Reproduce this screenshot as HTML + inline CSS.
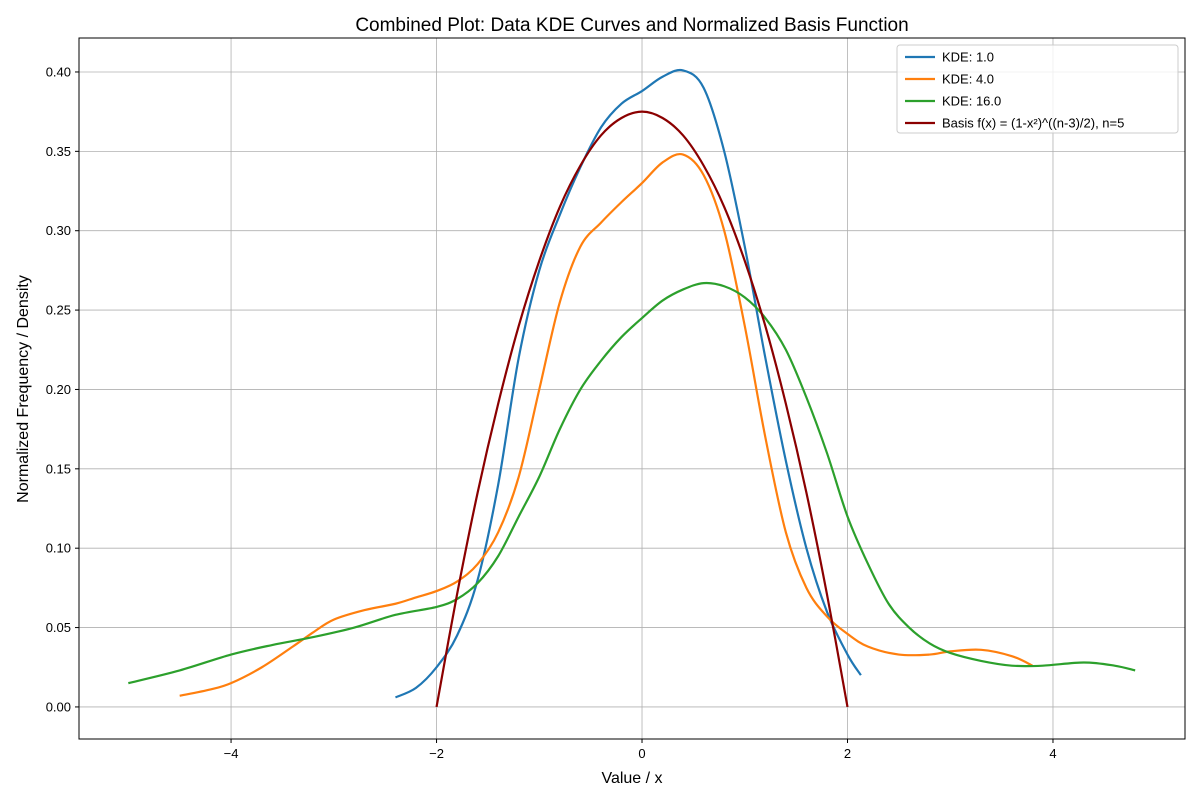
<!DOCTYPE html>
<html><head><meta charset="utf-8"><style>
body{margin:0;background:#fff;}
svg{font-family:"Liberation Sans","DejaVu Sans",sans-serif;}
</style></head><body>
<svg id="chart" width="1200" height="800">
<rect width="1200" height="800" fill="#fff"/>
<g id="grid"></g>
<g id="series"></g>
<rect x="79" y="38" width="1106" height="701" fill="none" stroke="#000" stroke-width="1"/>
<g id="ticks" font-size="13"></g>
<text x="632" y="31" text-anchor="middle" font-size="19">Combined Plot: Data KDE Curves and Normalized Basis Function</text>
<text x="632" y="783" text-anchor="middle" font-size="16">Value / x</text>
<text transform="translate(28,389) rotate(-90)" text-anchor="middle" font-size="16">Normalized Frequency / Density</text>
<g id="legend">
<rect x="897" y="45" width="281" height="88" rx="3" fill="#fff" fill-opacity="0.8" stroke="#ccc"/>
</g>
</svg>
<script>
const xTicks=[-4,-2,0,2,4];
const yTicks=[0,0.05,0.1,0.15,0.2,0.25,0.3,0.35,0.4];
const seriesNames=["KDE: 1.0","KDE: 4.0","KDE: 16.0","Basis f(x) = (1-x²)^((n-3)/2), n=5"];
const seriesColors=["#1f77b4","#ff7f0e","#2ca02c","#8b0000"];
const blueX=[-2.4,-2.2,-2.0,-1.8,-1.6,-1.4,-1.2,-1.0,-0.8,-0.6,-0.4,-0.2,0,0.2,0.4,0.6,0.8,1.0,1.2,1.4,1.6,1.8,2.0,2.13];
const blueY=[0.006,0.012,0.025,0.045,0.08,0.14,0.22,0.275,0.31,0.34,0.365,0.38,0.388,0.397,0.401,0.39,0.35,0.29,0.22,0.155,0.10,0.06,0.033,0.02];
const orangeX=[-4.5,-4.2,-4.0,-3.7,-3.4,-3.2,-3.0,-2.7,-2.4,-2.2,-2.0,-1.8,-1.6,-1.4,-1.2,-1.0,-0.8,-0.6,-0.4,-0.2,0,0.2,0.4,0.6,0.8,1.0,1.2,1.4,1.6,1.8,2.0,2.2,2.5,2.8,3.0,3.3,3.6,3.8];
const orangeY=[0.007,0.011,0.015,0.025,0.038,0.047,0.055,0.061,0.065,0.069,0.073,0.079,0.09,0.11,0.145,0.2,0.255,0.29,0.305,0.318,0.33,0.343,0.348,0.335,0.3,0.24,0.17,0.11,0.075,0.057,0.046,0.038,0.033,0.033,0.035,0.036,0.032,0.026];
const greenX=[-5.0,-4.5,-4.0,-3.6,-3.2,-2.8,-2.4,-2.0,-1.8,-1.6,-1.4,-1.2,-1.0,-0.8,-0.6,-0.4,-0.2,0,0.2,0.4,0.6,0.8,1.0,1.2,1.4,1.6,1.8,2.0,2.2,2.4,2.6,2.8,3.0,3.3,3.6,3.9,4.3,4.6,4.8];
const greenY=[0.015,0.023,0.033,0.039,0.044,0.05,0.058,0.063,0.068,0.078,0.095,0.12,0.145,0.175,0.2,0.218,0.233,0.245,0.256,0.263,0.267,0.265,0.258,0.245,0.225,0.195,0.16,0.12,0.09,0.065,0.05,0.04,0.034,0.029,0.026,0.026,0.028,0.026,0.023];
const basisX=[-2,-1.8,-1.6,-1.4,-1.2,-1.0,-0.8,-0.6,-0.4,-0.2,0,0.2,0.4,0.6,0.8,1.0,1.2,1.4,1.6,1.8,2];
const basisY=[0,0.071,0.135,0.191,0.24,0.281,0.315,0.341,0.36,0.371,0.375,0.371,0.36,0.341,0.315,0.281,0.24,0.191,0.135,0.071,0];
const NS="http://www.w3.org/2000/svg";
const X0=-5.48,X1=5.285,Y0=-0.0202,Y1=0.4214,L=79,R=1185,T=38,B=739;
function sx(v){return L+(v-X0)/(X1-X0)*(R-L);}
function sy(v){return B-(v-Y0)/(Y1-Y0)*(B-T);}
function mk(tag,attrs,parent){const e=document.createElementNS(NS,tag);for(const k in attrs)e.setAttribute(k,attrs[k]);parent.appendChild(e);return e;}
const grid=document.getElementById('grid'),ticks=document.getElementById('ticks'),ser=document.getElementById('series'),leg=document.getElementById('legend');
xTicks.forEach(v=>{const x=sx(v);
 const g=mk('line',{x1:x,x2:x,y1:T,y2:B,stroke:'#b0b0b0','stroke-width':0.8},grid);
 
 
 mk('line',{x1:x,x2:x,y1:B,y2:B+4,stroke:'#000'},ticks);
 const t=mk('text',{x:x,y:B+19,'text-anchor':'middle'},ticks);t.textContent=(v<0?'\u2212'+(-v):v);
 
 
});
yTicks.forEach(v=>{const y=sy(v);
 const g=mk('line',{x1:L,x2:R,y1:y,y2:y,stroke:'#b0b0b0','stroke-width':0.8},grid);
 
 
 mk('line',{x1:L-4,x2:L,y1:y,y2:y,stroke:'#000'},ticks);
 const t=mk('text',{x:L-8,y:y+4.5,'text-anchor':'end'},ticks);t.textContent=v.toFixed(2);
 
 
});
function pathD(xs,ys){const p=xs.map((x,i)=>[sx(x),sy(ys[i])]);let d='M'+p[0][0]+','+p[0][1];
 for(let i=0;i<p.length-1;i++){const p0=p[Math.max(0,i-1)],p1=p[i],p2=p[i+1],p3=p[Math.min(p.length-1,i+2)];
  const c1=[p1[0]+(p2[0]-p0[0])/6,p1[1]+(p2[1]-p0[1])/6],c2=[p2[0]-(p3[0]-p1[0])/6,p2[1]-(p3[1]-p1[1])/6];
  d+=' C'+c1[0]+','+c1[1]+' '+c2[0]+','+c2[1]+' '+p2[0]+','+p2[1];}
 return d;}
const all=[[blueX,blueY],[orangeX,orangeY],[greenX,greenY],[basisX,basisY]];
const names=['kde-1-line','kde-4-line','kde-16-line','basis-function-line'];
all.forEach((s,i)=>{const p=mk('path',{d:pathD(s[0],s[1]),fill:'none',stroke:seriesColors[i],'stroke-width':2.2},ser);
 
 
 const y=57+i*22;
 const ll=mk('line',{x1:905,x2:935,y1:y,y2:y,stroke:seriesColors[i],'stroke-width':2.2},leg);
 
 
 const t=mk('text',{x:942,y:y+4.5,'font-size':13},leg);t.textContent=seriesNames[i];
 
 
});
</script>
</body></html>
